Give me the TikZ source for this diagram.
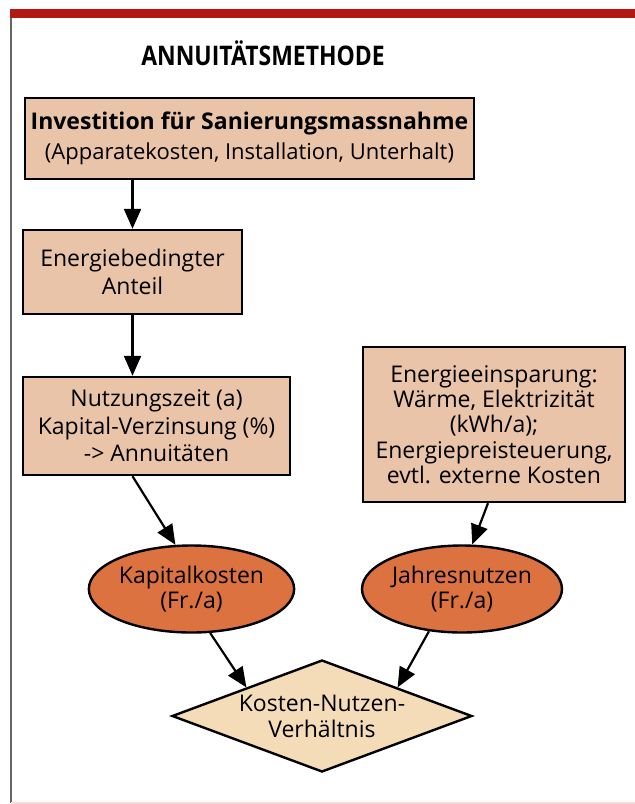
\documentclass[tikz,border=0pt]{standalone}
\usepackage{fontspec}
\setmainfont{Open Sans}
\newfontfamily\titelfont[FakeStretch=0.85]{Open Sans}
\usetikzlibrary{positioning,shapes.geometric,arrows.meta}
\definecolor{framered}{RGB}{178,24,20}
\definecolor{boxfill}{RGB}{233,196,168}
\definecolor{ovalfill}{RGB}{220,114,64}
\definecolor{rhombfill}{RGB}{245,220,184}

\begin{document}
\begin{tikzpicture}[x=1pt, y=-1pt,
        kasten/.style={rectangle, draw=black, line width=2.4pt, fill=boxfill, align=center, inner sep=0pt, font=\fontsize{23}{27.5}\selectfont},
        oval/.style={ellipse, draw=black, line width=2.4pt, fill=ovalfill, align=center, inner sep=0pt, minimum width=200pt, minimum height=87pt, font=\fontsize{23}{25}\selectfont},
        raute/.style={diamond, draw=black, line width=2.4pt, fill=rhombfill, align=center, inner sep=0pt, aspect=2.68, minimum width=300pt, minimum height=112pt, font=\fontsize{23}{26}\selectfont},
        pfeil/.style={-{Triangle[length=20pt, width=17pt]}, line width=2.2pt, black}
    ]
    \useasboundingbox (0,0) rectangle (635,804);

    % frame
    \fill[framered] (10,9) rectangle (635,18);
    \draw[gray!80!black, line width=1.2pt] (11,18) -- (11,803);
    \draw[red!15, line width=1.2pt] (11,803) -- (635,803);

    \node[font=\titelfont\fontsize{27}{30}\selectfont\bfseries] (titel) at (263,53) {ANNUITÄTSMETHODE};

    % left column
    \node[kasten, minimum width=449pt, minimum height=81pt, font=\fontsize{22}{30}\selectfont] (invest) at (249.5,138.5)
        {{\fontsize{23}{30}\selectfont\bfseries Investition für Sanierungsmassnahme}\\(Apparatekosten, Installation, Unterhalt)};
    \node[kasten, minimum width=219pt, minimum height=84pt] (anteil) at (132.5,272) {Energiebedingter\\Anteil};
    \node[kasten, minimum width=267pt, minimum height=98pt] (nutzung) at (156.5,426)
        {Nutzungszeit (a)\\Kapital-Verzinsung (\%)\\-> Annuitäten};

    % right column
    \node[kasten, minimum width=262pt, minimum height=155pt, font=\fontsize{23}{25.3}\selectfont] (einspar) at (494,424.5)
        {Energieeinsparung:\\Wärme, Elektrizität\\(kWh/a);\\Energiepreisteuerung,\\evtl. externe Kosten};

    \node[oval] (kapital) at (191.5,589) {Kapitalkosten\\(Fr./a)};
    \node[oval] (nutzen) at (462,589) {Jahresnutzen\\(Fr./a)};
    \node[raute] (verh) at (322,716) {Kosten-Nutzen-\\Verhältnis};

    \draw[pfeil] (invest.south -| anteil) -- (anteil);
    \draw[pfeil] (anteil) -- (nutzung.north -| anteil);
    \draw[pfeil] (nutzung.south -| anteil) -- (kapital.110);
    \draw[pfeil] ([xshift=-6pt]einspar.south) -- (nutzen.77);
    \draw[pfeil] (kapital.-67) -- (verh.north west);
    \draw[pfeil] (nutzen.-128) -- (verh.north east);
\end{tikzpicture}
\end{document}
